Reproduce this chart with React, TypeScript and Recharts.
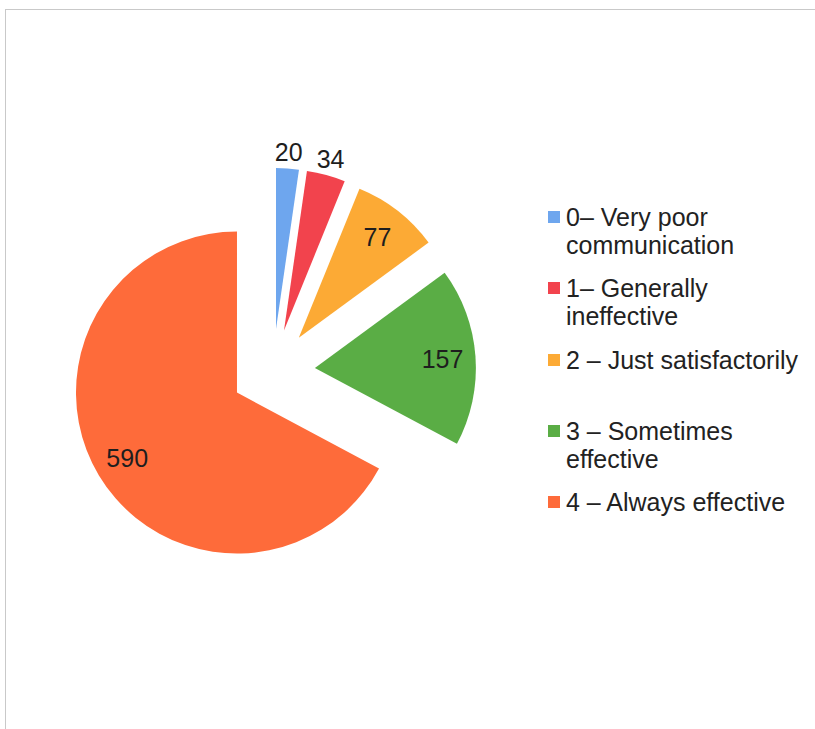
import { PieChart, Pie, Cell, Legend, Sector } from "recharts";

const categories = [
  "0– Very poor communication",
  "1– Generally ineffective",
  "2 – Just satisfactorily",
  "3 – Sometimes effective",
  "4 – Always effective",
];
const counts = [20, 34, 77, 157, 590];
const colors = ["#6ea6ee", "#f2434d", "#fcaa35", "#5aad45", "#fe6b3a"];

const data = categories.map((name, i) => ({ name, value: counts[i] }));

const RAD = Math.PI / 180;
const EXPLODE = 42;
const FONT = "'Liberation Sans', Arial, sans-serif";

const offset = (midAngle: number) => ({
  dx: EXPLODE * Math.cos(-midAngle * RAD),
  dy: EXPLODE * Math.sin(-midAngle * RAD),
});

// every slice pulled out along its own mid angle
const ExplodedSlice = (props: any) => {
  const { dx, dy } = offset(props.midAngle);
  return (
    <Sector
      cx={props.cx + dx}
      cy={props.cy + dy}
      innerRadius={props.innerRadius}
      outerRadius={props.outerRadius}
      startAngle={props.startAngle}
      endAngle={props.endAngle}
      fill={props.fill}
      stroke="none"
    />
  );
};

const renderLabel = (props: any) => {
  const { cx, cy, midAngle, outerRadius, value, percent } = props;
  const { dx, dy } = offset(midAngle);
  // small slices get their label outside, the rest inside
  const r = percent < 0.05 ? outerRadius * 1.105 : outerRadius * 0.795;
  const x = cx + dx + r * Math.cos(-midAngle * RAD);
  const y = cy + dy + r * Math.sin(-midAngle * RAD);
  return (
    <text
      x={x}
      y={y}
      textAnchor="middle"
      dominantBaseline="central"
      fill="#1e1e1e"
      fontSize={25}
      fontFamily={FONT}
    >
      {value}
    </text>
  );
};

const LegendBox = () => (
  <div style={{ fontFamily: FONT, fontSize: 25, lineHeight: "28px", color: "#222" }}>
    {data.map((d, i) => (
      <div key={d.name} style={{ display: "flex", alignItems: "flex-start", height: 71.3 }}>
        <span
          style={{
            width: 12,
            height: 12,
            background: colors[i],
            marginTop: 8,
            marginRight: 6,
            flex: "none",
          }}
        />
        <span style={{ width: 245 }}>{d.name}</span>
      </div>
    ))}
  </div>
);

export default function App() {
  return (
    <div style={{ position: "absolute", left: 0, top: 0, width: 815, height: 729, background: "#fff" }}>
      <div
        style={{
          position: "absolute",
          left: 5,
          top: 9,
          width: 830,
          height: 740,
          borderLeft: "1px solid #c9c9c9",
          borderTop: "1px solid #c9c9c9",
        }}
      />
      <PieChart width={815} height={729} style={{ position: "absolute", left: 0, top: 0 }}>
        <Pie
          data={data}
          dataKey="value"
          nameKey="name"
          cx={268}
          cy={366}
          outerRadius={161}
          startAngle={90}
          endAngle={-270}
          stroke="none"
          shape={ExplodedSlice}
          label={renderLabel}
          labelLine={false}
          isAnimationActive={false}
        >
          {data.map((d, i) => (
            <Cell key={d.name} fill={colors[i]} />
          ))}
        </Pie>
        <Legend
          content={<LegendBox />}
          wrapperStyle={{ left: 548, top: 203, width: 267 }}
        />
      </PieChart>
    </div>
  );
}
